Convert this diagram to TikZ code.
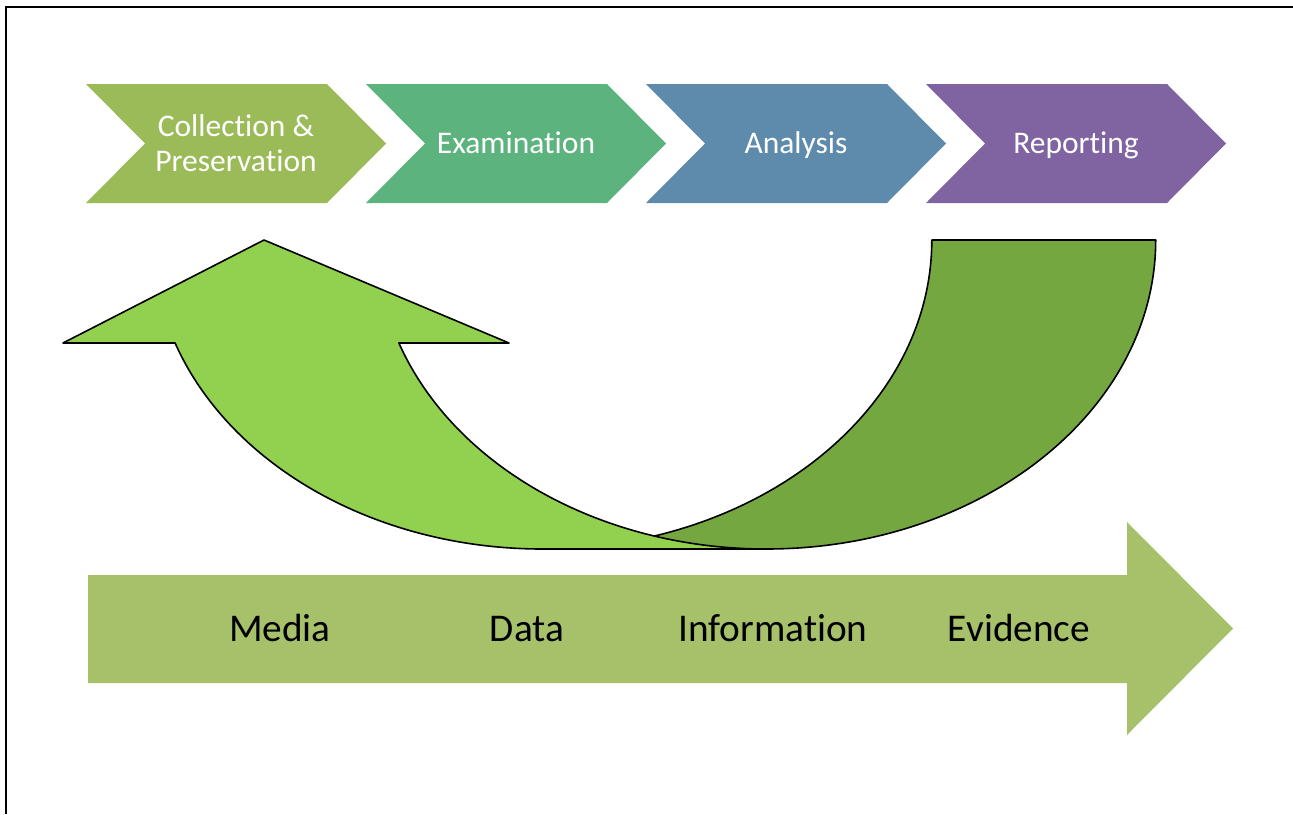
\documentclass[tikz,border=0pt]{standalone}
\usepackage{fontspec}
\setmainfont{Carlito}[RawFeature={-liga;-clig;-calt;-dlig}]
\begin{document}
\begin{tikzpicture}[x=1pt,y=-1pt,
  stagetext/.style={text=white,font=\fontsize{31.5}{35}\selectfont,align=center,inner sep=0pt},
  flowtext/.style={text=black,font=\fontsize{39.3}{47}\selectfont,anchor=base,inner sep=0pt},
  outline/.style={draw=black,line width=1.6pt,line join=round}]
\definecolor{stageA}{HTML}{9BBB59}
\definecolor{stageB}{HTML}{5CB37E}
\definecolor{stageC}{HTML}{5E8BAB}
\definecolor{stageD}{HTML}{8064A2}
\definecolor{frontgreen}{HTML}{92D050}
\definecolor{backgreen}{HTML}{75A740}
\definecolor{flowgreen}{HTML}{A6C16A}

\useasboundingbox (0,0) rectangle (1293,814);

% frame (runs off the page at the right and bottom)
\draw[line width=2.2pt] (6,814) -- (6,7) -- (1293,7);

% process chevrons
\foreach \L/\col in {86/stageA,366/stageB,646/stageC,926/stageD}{
  \fill[\col] (\L,84) -- ++(241,0) -- ++(59,59.5) -- ++(-59,59.5)
     -- ++(-241,0) -- ++(59,-59.5) -- cycle;
}
\node[stagetext] (collect) at (236,143.2) {Collection \&\\Preservation};
\node[stagetext,anchor=base] (exam)   at (516,153.5) {Examination};
\node[stagetext,anchor=base] (anal)   at (796,153.5) {Analysis};
\node[stagetext,anchor=base] (report) at (1076,153.5) {Reporting};

% curved return arrow: back band (right) and front band with head (left)
\coordinate (backOuterTop) at (1155.7,240);
\coordinate (frontInnerTop) at (398.9,343);
\filldraw[outline,fill=backgreen] (backOuterTop)
  arc[start angle=0,end angle=-90,x radius=389.5pt,y radius=309pt]
  -- (542.3,549)
  arc[start angle=-90,end angle=0,x radius=389.5pt,y radius=309pt]
  -- cycle;
\filldraw[outline,fill=frontgreen] (63,343) -- (264,240) -- (509,343) -- (frontInnerTop)
  arc[start angle=-160.53,end angle=-90,x radius=389.5pt,y radius=309pt]
  -- (542.3,549)
  arc[start angle=-90,end angle=-160.53,x radius=389.5pt,y radius=309pt]
  -- cycle;

% media-to-evidence arrow
\fill[flowgreen] (88,575) -- (1127,575) -- (1127,522) -- (1233,628.5)
  -- (1127,735) -- (1127,683) -- (88,683) -- cycle;
\node[flowtext] (media) at (280,641) {Media};
\node[flowtext] (data)  at (527,641) {Data};
\node[flowtext] (info)  at (773,641) {Information};
\node[flowtext] (evid)  at (1019,641) {Evidence};
\end{tikzpicture}
\end{document}
